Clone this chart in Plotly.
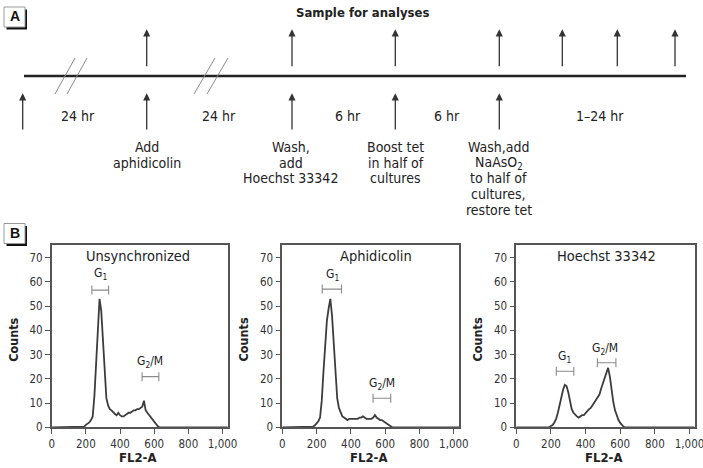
import plotly.graph_objects as go

W, H = 703, 468

# ---------------- data ----------------
panel_titles = ["Unsynchronized", "Aphidicolin", "Hoechst 33342"]

channels = list(range(170, 660, 10))  # FL2-A channel (170..650)

counts_unsync = [0, 0, 0.3, 1.0, 1.5, 2, 3, 4.5, 13, 28, 40, 53, 48, 34, 22, 12,
                 9, 7.5, 7, 6, 5.5, 5, 6, 5, 4.5, 4.5, 5, 5.5, 6, 6, 6.5, 7, 7,
                 7.5, 7.5, 8, 8.5, 11, 7, 6, 5, 4, 3, 2.5, 1.5, 0.5, 0, 0, 0]
counts_aphid = [0, 0.3, 0.8, 1.5, 2.5, 4, 11, 23, 35, 44, 49, 53, 46, 36, 23, 12,
                8, 6, 4.5, 4, 3.5, 3, 3.5, 3.5, 3.5, 3.5, 3.5, 3.5, 4, 4, 4.5, 4,
                3.5, 3.5, 3.5, 3.5, 4, 5, 4, 3.5, 3, 3, 2.5, 2, 1.5, 1, 0.5, 0, 0]
counts_hoechst = [0, 0, 0, 0.5, 1, 2, 3.5, 6, 9.5, 13, 15.5, 17.5, 17, 14.5, 10.5,
                  7.5, 6, 5, 4.5, 4, 4.5, 5, 5, 6, 6.5, 7.5, 8, 9, 10, 11, 12, 13.5,
                  16, 18, 20, 22, 24.5, 21, 15, 10.5, 7, 4.5, 3, 1.8, 0.8, 0.2, 0, 0, 0]
all_counts = [counts_unsync, counts_aphid, counts_hoechst]

x_tickvals = [0, 200, 400, 600, 800, 1000]
x_ticktext = ["0", "200", "400", "600", "800", "1,000"]
y_tickvals = [0, 10, 20, 30, 40, 50, 60, 70]

# gates: (label, x_start, x_end, y_level, label_x, label_y)
gates = [
    [("G<sub>1</sub>", 235, 333, 56.6, 284, 63.3), ("G<sub>2</sub>/M", 529, 627, 20.9, 578, 27)],
    [("G<sub>1</sub>", 233, 345, 57, 295, 63), ("G<sub>2</sub>/M", 529, 632, 12, 579, 17.9)],
    [("G<sub>1</sub>", 231, 332, 23.1, 279, 29), ("G<sub>2</sub>/M", 468, 575, 26.6, 510, 32.5)],
]

# timeline (panel A) text
event_labels = [["Add", "aphidicolin"],
                ["Wash,", "add", "Hoechst 33342"],
                ["Boost tet", "in half of", "cultures"],
                ["Wash,add", "NaAsO<sub>2</sub>", "to half of", "cultures,", "restore tet"]]
duration_labels = ["24 hr", "24 hr", "6 hr", "6 hr", "1\u201324 hr"]

# ---------------- layout geometry (pixels) ----------------
def px(x):
    return x / W


def py(y):
    return 1 - y / H


REG = "DejaVu Sans Condensed, Liberation Sans Narrow, Arial Narrow, sans-serif"
BOLDN = "Liberation Sans Narrow, DejaVu Sans Condensed, Arial Narrow, sans-serif"
TXT = "#222222"

panel_left = [51.7, 282.3, 516.3]
panel_right = [227.7, 459.0, 694.7]
panel_top, panel_bottom = 245.0, 427.3
title_x = [138.3, 375.5, 606.7]


def note(x, y, text, size, family=REG, **kw):
    d = dict(x=px(x), y=py(y), xref="paper", yref="paper", text=text, showarrow=False,
             xanchor="center", yanchor="middle",
             font=dict(family=family, size=size, color=kw.pop("color", TXT)))
    d.update(kw)
    return d


fig = go.Figure()
annotations = []
shapes = []

for i in range(3):
    xa = "x" if i == 0 else f"x{i+1}"
    ya = "y" if i == 0 else f"y{i+1}"
    fig.add_trace(go.Scatter(
        x=[0] + channels + [1030], y=[0] + all_counts[i] + [0],
        mode="lines", line=dict(color="#3c3c3c", width=1.8),
        xaxis=xa, yaxis=ya, showlegend=False, hoverinfo="skip"))
    for (lab, x0, x1, yl, lx, ly) in gates[i]:
        fig.add_trace(go.Scatter(
            x=[(x0 + x1) / 2], y=[yl], mode="markers",
            marker=dict(size=1, color="rgba(0,0,0,0)"),
            error_x=dict(type="data", array=[(x1 - x0) / 2], symmetric=True,
                         color="#8a8a8a", thickness=1.1, width=4.5),
            xaxis=xa, yaxis=ya, showlegend=False, hoverinfo="skip"))
        annotations.append(dict(x=lx, y=ly, xref=xa, yref=ya, text=lab,
                                showarrow=False, xanchor="center", yanchor="middle",
                                font=dict(family=REG, size=12, color=TXT)))
    axis_common = dict(showline=True, mirror=True, linecolor="#555555", linewidth=1.6,
                       ticks="outside", ticklen=5, tickwidth=1, tickcolor="#555555",
                       showgrid=False, zeroline=False, automargin=False,
                       ticklabeloverflow="allow",
                       tickfont=dict(family=REG, size=11.5, color="#333333"))
    fig.layout[("xaxis" if i == 0 else f"xaxis{i+1}")] = dict(
        domain=[px(panel_left[i]), px(panel_right[i])], range=[0, 1030],
        tickvals=x_tickvals, ticktext=x_ticktext, anchor=ya, **axis_common)
    fig.layout[("yaxis" if i == 0 else f"yaxis{i+1}")] = dict(
        domain=[py(panel_bottom), py(panel_top)], range=[0, 75.2],
        tickvals=y_tickvals, anchor=xa, **axis_common)
    annotations.append(note(title_x[i], 256, panel_titles[i], 14.5))
    annotations.append(note(panel_left[i] - 38.4, 339.5, "<b>Counts</b>", 12.5, BOLDN,
                            textangle=-90))
    annotations.append(note((panel_left[i] + panel_right[i]) / 2 - 2, 457.5,
                            "<b>FL2-A</b>", 13, BOLDN))

# ---------------- panel A: timeline ----------------
shapes.append(dict(type="line", xref="paper", yref="paper", x0=px(24), x1=px(686),
                   y0=py(76), y1=py(76), line=dict(color="#222222", width=2.6)))
for (xa0, xa1) in [(55, 75), (67, 87), (194, 215), (207, 228)]:
    shapes.append(dict(type="line", xref="paper", yref="paper", x0=px(xa0), x1=px(xa1),
                       y0=py(94), y1=py(58), line=dict(color="#8a8a8a", width=1)))

upper_x = [146.7, 292, 395.3, 499.3, 562.3, 617.3, 675]
lower_x = [22.7, 146.7, 292, 395.3, 499.3]
for xv in upper_x:
    annotations.append(dict(x=px(xv), y=py(29.3), xref="paper", yref="paper", text="",
                            showarrow=True, ax=0, ay=38.4, arrowhead=2, arrowsize=1.1,
                            arrowwidth=1.3, arrowcolor="#333333", standoff=0))
for xv in lower_x:
    annotations.append(dict(x=px(xv), y=py(93.3), xref="paper", yref="paper", text="",
                            showarrow=True, ax=0, ay=37.7, arrowhead=2, arrowsize=1.1,
                            arrowwidth=1.3, arrowcolor="#333333", standoff=0))

dur_x = [78, 219, 348, 447.3, 600]
for lab, xv in zip(duration_labels, dur_x):
    annotations.append(note(xv, 116, lab, 14))

event_x = [146.7, 290.5, 395.8, 498.5]
for lines, xv in zip(event_labels, event_x):
    for j, ln in enumerate(lines):
        annotations.append(note(xv, 146.7 + 15.8 * j, ln, 14))

annotations.append(note(362, 12.3, "<b>Sample for analyses</b>", 13, BOLDN))

# panel letter boxes
for letter, top in [("A", 7.0), ("B", 223.5)]:
    shapes.append(dict(type="rect", xref="paper", yref="paper", x0=px(6.5), x1=px(27),
                       y0=py(top + 22.5), y1=py(top + 2.5), fillcolor="#111111",
                       line=dict(width=0)))
    shapes.append(dict(type="rect", xref="paper", yref="paper", x0=px(4), x1=px(25),
                       y0=py(top + 20), y1=py(top), fillcolor="white",
                       line=dict(color="#9a9a9a", width=1)))
    annotations.append(note(14.5, top + 9.5, f"<b>{letter}</b>", 14,
                            "Liberation Sans, Arial, sans-serif", color="#111111"))

fig.update_layout(width=W, height=H,
                  margin=dict(l=0, r=0, t=0, b=0, pad=0, autoexpand=False),
                  paper_bgcolor="white", plot_bgcolor="white",
                  annotations=annotations, shapes=shapes, showlegend=False)

# remove the browser's default 8px page margin so the figure fills the window
fig.write_html("out.html", config={"displayModeBar": False},
               post_script="document.body.style.margin='0px';")
